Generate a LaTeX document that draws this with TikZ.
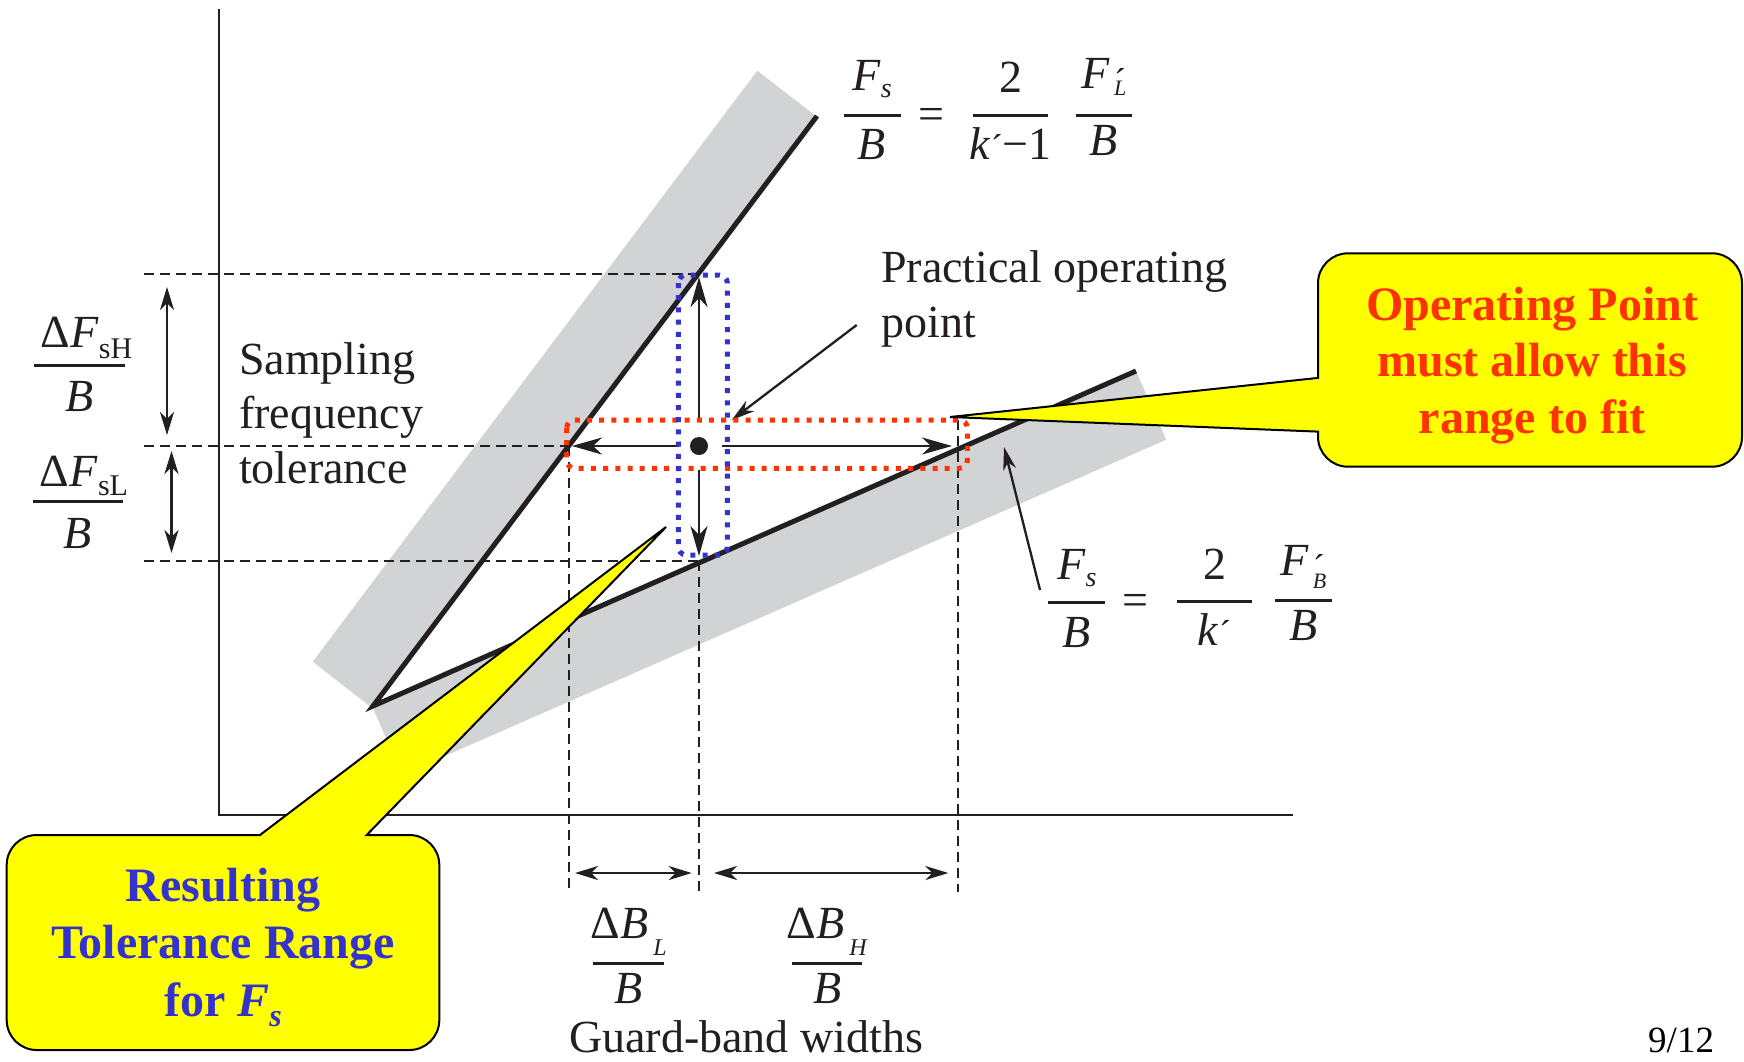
\documentclass[tikz,border=0pt]{standalone}
\usepackage{fontspec}
\setmainfont{Liberation Serif}
\usetikzlibrary{arrows.meta}
\definecolor{band}{RGB}{209,211,212}
\definecolor{ink}{RGB}{35,31,32}
\definecolor{dotred}{RGB}{255,51,0}
\definecolor{dotblue}{RGB}{51,51,204}
\definecolor{callyel}{RGB}{255,255,0}
\definecolor{txtred}{RGB}{255,51,0}
\definecolor{txtblue}{RGB}{51,51,204}
% lowered small text: #1 drop, #2 size, #3 text
\newcommand\lowr[3]{\raisebox{-#1}{\fontsize{#2}{#2}\selectfont #3}}
% fraction: name, cx, bar y, half width, num baseline, den baseline, num, den
\newcommand\fracat[8]{%
  \node[fn] (#1n) at (#2,#5) {#7};
  \draw[ink,line width=3pt] ({#2-#4},#3) -- ({#2+#4},#3);
  \node[fn] (#1d) at (#2,#6) {#8};}
\begin{document}
\begin{tikzpicture}[x=1pt,y=-1pt,
  txt/.style={inner sep=0pt, anchor=base west, font=\fontsize{46}{55}\selectfont, text=ink},
  fn/.style={inner sep=0pt, anchor=base, font=\fontsize{46}{55}\selectfont, text=ink},
  dsh/.style={ink, line width=2.2pt, dash pattern=on 10pt off 6pt},
  bigarr/.style={ink, line width=2.3pt, -{Stealth[length=30pt,width=17pt,inset=9pt]}},
  arr/.style={ink, line width=2.3pt, -{Stealth[length=23pt,width=13pt,inset=7pt]}},
  darr/.style={ink, line width=2.3pt, {Stealth[length=23pt,width=14pt,inset=7pt]}-{Stealth[length=23pt,width=14pt,inset=7pt]}},
  callout/.style={fill=callyel, draw=black, line width=2pt, line join=miter},
  btxt/.style={inner sep=0pt, anchor=base, font=\fontsize{48}{56}\selectfont\bfseries},
  dotrect/.style={line width=5pt, dash pattern=on 5pt off 7.2pt, rounded corners=8pt}
]
\useasboundingbox (0,0) rectangle (1744,1061);
\fill[white] (0,0) rectangle (1744,1061);

% grey tolerance bands
\fill[band] (371,707) -- (816.7,116.7) -- (757.3,70.7) -- (312.7,661.7) -- cycle;
\fill[band] (372,706) -- (1136,371) -- (1166.2,439.7) -- (402.2,774.7) -- cycle;

% key coordinates
\coordinate (V) at (373,706);
\coordinate (U) at (817,116);
\coordinate (L) at (1136,371);
\coordinate (H) at (699,274);
\coordinate (O) at (699,446);
\coordinate (Lo) at (699,561);
\coordinate (Lft) at (568.6,446);
\coordinate (Rgt) at (958,420);
\coordinate (hH) at (144,274);
\coordinate (hM) at (144,446);
\coordinate (hL) at (144,561);
\coordinate (vA) at (568.6,892);
\coordinate (vB) at (699,892);
\coordinate (vC) at (958,892);

% dashed guide lines
\draw[dsh] (hH) -- (H);
\draw[dsh] (hM) -- (Lft);
\draw[dsh] (hL) -- (Lo);
\draw[dsh] (Lft) -- (vA);
\draw[dsh] (Lo) -- (vB);
\draw[dsh] (Rgt) -- (vC);

% axes
\coordinate (ytop) at (219,9);
\coordinate (orig) at (219,815);
\coordinate (xend) at (1293,815);
\draw[ink, line width=2.5pt] (ytop) -- (orig) -- (xend);

% the two lines
\draw[ink, line width=5pt, line join=miter] (U) -- (V) -- (L);

% arrows around operating point
\coordinate (aU0) at (699,420);
\coordinate (aU1) at (699,277);
\coordinate (aD0) at (699,470);
\coordinate (aD1) at (699,556);
\coordinate (aL0) at (679,446);
\coordinate (aL1) at (572,446);
\coordinate (aR0) at (722,446);
\coordinate (aR1) at (952,446);
\draw[bigarr] (aU0) -- (aU1);
\draw[bigarr] (aD0) -- (aD1);
\draw[bigarr] (aL0) -- (aL1);
\draw[bigarr] (aR0) -- (aR1);
\fill[ink] (O) circle[radius=9];

% left tolerance double arrows
\coordinate (t1a) at (167,287);
\coordinate (t1b) at (167,435);
\coordinate (t2a) at (171.5,451);
\coordinate (t2b) at (171.5,553);
\draw[darr] (t1a) -- (t1b);
\draw[darr] (t2a) -- (t2b);

% bottom guard band double arrows
\coordinate (g1a) at (575,873);
\coordinate (g1b) at (691.7,873);
\coordinate (g2a) at (714,873);
\coordinate (g2b) at (948.3,873);
\draw[darr] (g1a) -- (g1b);
\draw[darr] (g2a) -- (g2b);

% labels with pointer arrows
\node[txt] (pop1) at (881,282) {Practical operating};
\node[txt] (pop2) at (881,337) {point};
\coordinate (pa0) at (856.7,325);
\coordinate (pa1) at (731.7,420);
\draw[arr] (pa0) -- (pa1);
\coordinate (la0) at (1040,590);
\coordinate (la1) at (1004,447);
\draw[arr] (la0) -- (la1);

\node[txt] (sf1) at (239,374) {Sampling};
\node[txt] (sf2) at (239,428.5) {frequency};
\node[txt] (sf3) at (239,483) {tolerance};

\node[txt] (gbw) at (569,1052) {Guard-band widths};
\node[inner sep=0pt, anchor=base west, font=\fontsize{37}{40}\selectfont, text=black] (pg) at (1648,1052) {9/12};

% equation 1
\fracat{fa}{872}{115}{28.5}{90}{159}{\textit{F}\lowr{7pt}{28}{\textit{s}}}{\textit{B}}
\node[fn] (e1) at (931.7,129) {=};
\fracat{fb}{1010.8}{115}{37.5}{92}{159}{2}{\textit{k}\lowr{0pt}{36}{´}−1}
\fracat{fc}{1104}{115}{28}{88}{155}{\textit{F}\hspace{4pt}\rlap{\lowr{5pt}{36}{´}}\lowr{7.7pt}{22}{\textit{L}}}{\textit{B}}

% equation 2
\fracat{ga}{1076.7}{602}{28.5}{579}{647}{\textit{F}\lowr{7pt}{28}{\textit{s}}}{\textit{B}}
\node[fn] (e2) at (1135.8,615) {=};
\fracat{gb}{1214.5}{601}{37.8}{579}{645}{2}{\textit{k}\lowr{0pt}{36}{´}}
\fracat{gc}{1303.3}{600}{28.3}{575}{640}{\textit{F}\hspace{4pt}\rlap{\lowr{4pt}{36}{´}}\lowr{13pt}{22}{\textit{B}}}{\textit{B}}

% left fractions
\fracat{hs}{79.5}{365}{45.5}{347}{411.7}{\hspace{14pt}Δ\textit{F}\lowr{11pt}{30}{sH}}{\textit{B}}
\fracat{ls}{78}{501.7}{45.3}{486.7}{548.3}{\hspace{12pt}Δ\textit{F}\lowr{9pt}{30}{sL}}{\textit{B}}

% bottom fractions
\fracat{bl}{628.7}{963.3}{35.4}{938.3}{1003.3}{Δ\textit{B}\hspace{5pt}\lowr{17pt}{24}{\textit{L}}}{\textit{B}}
\fracat{bh}{827.3}{963.3}{35}{938.3}{1003.3}{Δ\textit{B}\hspace{5pt}\lowr{17pt}{24}{\textit{H}}}{\textit{B}}

% dotted ranges
\draw[dotrect, dotred] (566.7,420) rectangle (967.3,468.3);
\draw[dotrect, dotblue] (678.3,275) rectangle (727.3,555);

% right callout
\draw[callout] (1318,377.9) -- (950,417) -- (1318,431.6) -- (1318,436.7)
  arc[start angle=180,end angle=90,radius=30] -- (1712,466.7)
  arc[start angle=90,end angle=0,radius=30] -- (1742,283.3)
  arc[start angle=0,end angle=-90,radius=30] -- (1348,253.3)
  arc[start angle=-90,end angle=-180,radius=30] -- cycle;
\node[btxt, text=txtred] (c1a) at (1532,320) {Operating Point};
\node[btxt, text=txtred] (c1b) at (1532,376.7) {must allow this};
\node[btxt, text=txtred] (c1c) at (1532,433.3) {range to fit};

% left callout
\draw[callout] (260,835) -- (666,527) -- (366.7,835) -- (409.3,835)
  arc[start angle=-90,end angle=0,radius=30] -- (439.3,1020)
  arc[start angle=0,end angle=90,radius=30] -- (36.7,1050)
  arc[start angle=90,end angle=180,radius=30] -- (6.7,865)
  arc[start angle=180,end angle=270,radius=30] -- cycle;
\node[btxt, text=txtblue] (c2a) at (223,901.7) {Resulting};
\node[btxt, text=txtblue] (c2b) at (223,958.3) {Tolerance Range};
\node[btxt, text=txtblue] (c2c) at (223,1016.7) {for \textit{F}\lowr{10pt}{32}{\textit{s}}};
\end{tikzpicture}
\end{document}
